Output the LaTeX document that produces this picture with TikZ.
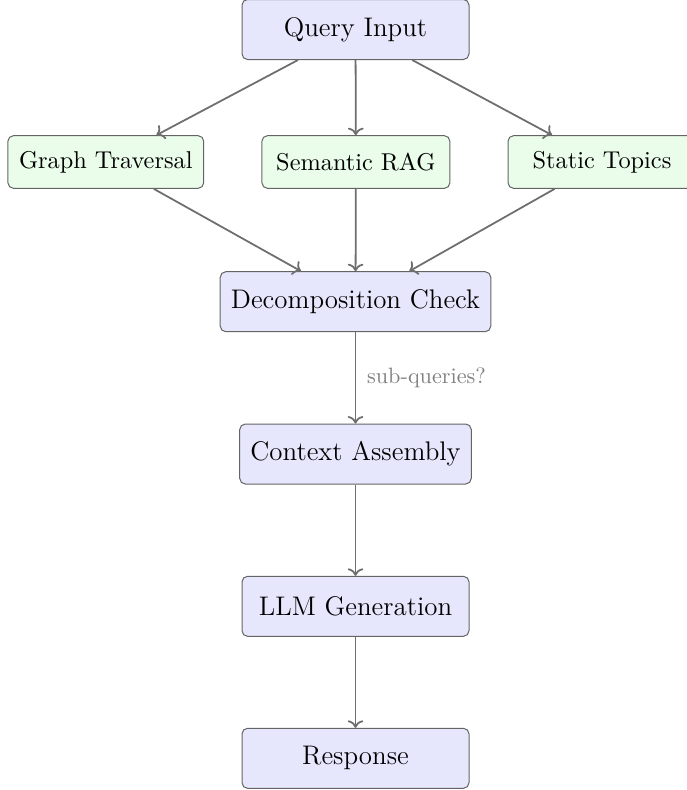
\documentclass[tikz,border=0pt]{standalone}
\usetikzlibrary{arrows.meta}
\definecolor{mainfill}{RGB}{230,230,252}
\definecolor{subfill}{RGB}{234,252,234}
\definecolor{edgegray}{RGB}{110,110,110}
\definecolor{bordergray}{RGB}{100,100,100}
\tikzset{
  mainbox/.style={draw=bordergray, line width=0.45pt, fill=mainfill, rounded corners=2.5pt,
    minimum width=102.15pt, minimum height=27pt, inner xsep=4.8pt,
    font=\fontsize{12.1}{14.5}\selectfont},
  subbox/.style={draw=bordergray, line width=0.45pt, fill=subfill, rounded corners=2.5pt,
    minimum width=84.6pt, minimum height=23.7pt, inner xsep=5pt,
    font=\fontsize{10.95}{13.6}\selectfont},
  flow/.style={draw=edgegray, line width=0.8pt, ->},
  edgelabel/.style={text=gray, font=\fontsize{10}{12}\selectfont, xshift=1.5pt}
}
\begin{document}
\begin{tikzpicture}[x=0.45pt, y=-0.45pt]
\clip (0,0) rectangle (687,790);
\node[mainbox] (q) at (355.5,29.5) {Query Input};
\node[subbox] (g) at (105.8,162) {Graph Traversal};
\node[subbox] (s) at (355.9,162) {Semantic RAG};
\node[subbox] (t) at (602,162) {Static Topics};
\node[mainbox] (d) at (355.5,301.7) {Decomposition Check};
\node[mainbox] (c) at (355.5,454) {Context Assembly};
\node[mainbox] (l) at (355.5,606.3) {LLM Generation};
\node[mainbox] (r) at (355.5,758.3) {Response};
\draw[flow] (q) -- (g);
\draw[flow] (q) -- (s);
\draw[flow] (q) -- (t);
\draw[flow] (g) -- (d);
\draw[flow] (s) -- (d);
\draw[flow] (t) -- (d);
\draw[flow] (d) -- node[edgelabel, right] {sub-queries?} (c);
\draw[flow] (c) -- (l);
\draw[flow] (l) -- (r);
\end{tikzpicture}
\end{document}
